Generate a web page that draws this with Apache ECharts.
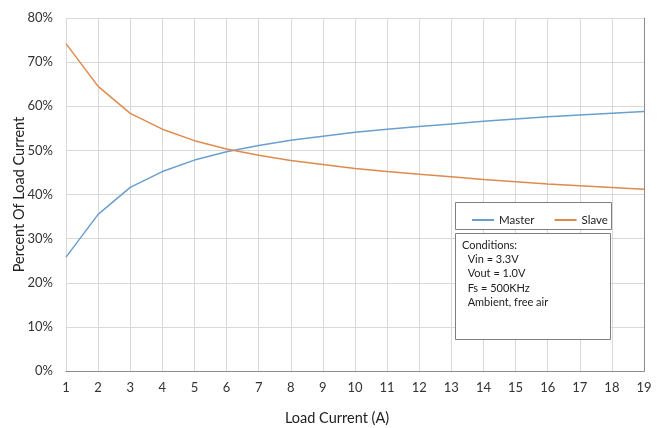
<!DOCTYPE html>
<html><head><meta charset="utf-8">
<script src="https://cdn.jsdelivr.net/npm/echarts@6/dist/echarts.min.js"></script>
<style>html,body{margin:0;padding:0;background:#fff}#c{width:660px;height:428px}</style>
</head><body><div id="c"></div>
<script>
var loadCurrent = [1,2,3,4,5,6,7,8,9,10,11,12,13,14,15,16,17,18,19];
var master = [25.8,35.5,41.6,45.2,47.8,49.7,51.1,52.3,53.2,54.1,54.8,55.4,56.0,56.6,57.1,57.6,58.0,58.4,58.8];
var slave  = [74.2,64.5,58.4,54.8,52.2,50.3,48.9,47.7,46.8,45.9,45.2,44.6,44.0,43.4,42.9,42.4,42.0,41.6,41.2];
var seriesNames = ['Master','Slave'];
var conditions = ['Conditions:','  Vin = 3.3V','  Vout = 1.0V','  Fs = 500KHz','  Ambient, free air'];

var FONT = 'Lato';
var chart = echarts.init(document.getElementById('c'), null, {renderer:'canvas'});
function pairs(xs, ys){ return xs.map(function(x,i){return [x, ys[i]];}); }
chart.setOption({
  animation:false,
  textStyle:{fontFamily:FONT},
  grid:{left:66,right:16,top:18,bottom:57,containLabel:false,outerBoundsMode:'none'},
  xAxis:[{
    type:'value', min:1, max:19, interval:1,
    name:'Load Current (A)', nameLocation:'middle', nameGap:40, nameMoveOverlap:false,
    nameTextStyle:{fontFamily:FONT,fontSize:14.5,color:'#222',padding:[0,36,0,0]},
    axisLine:{show:true,lineStyle:{color:'#8c8c8c',width:1}},
    axisTick:{show:false},
    axisLabel:{fontFamily:FONT,fontSize:13,color:'#333',margin:10},
    splitLine:{show:true,lineStyle:{color:'#d9d9d9',width:1}}
  },{
    type:'value', min:1, max:19, interval:1, position:'top',
    axisLine:{show:true,lineStyle:{color:'#8c8c8c',width:1}},
    axisTick:{show:false}, axisLabel:{show:false}, splitLine:{show:false}
  }],
  yAxis:[{
    type:'value', min:0, max:80, interval:10,
    name:'Percent Of Load Current', nameLocation:'middle', nameGap:39, nameMoveOverlap:false,
    nameTextStyle:{fontFamily:FONT,fontSize:14.5,color:'#222'},
    axisLine:{show:false}, axisTick:{show:false},
    axisLabel:{fontFamily:FONT,fontSize:13,color:'#333',margin:13,formatter:'{value}%'},
    splitLine:{show:true,lineStyle:{color:'#d9d9d9',width:1}}
  },{
    type:'value', min:0, max:80, interval:10, position:'right',
    axisLine:{show:true,lineStyle:{color:'#8c8c8c',width:1}},
    axisTick:{show:false}, axisLabel:{show:false}, splitLine:{show:false}
  }],
  legend:{
    data:seriesNames, left:467, top:209, itemWidth:22, itemHeight:2, icon:'rect',
    itemGap:20, z:10, textStyle:{fontFamily:FONT,fontSize:11.5,color:'#222'}
  },
  graphic:[
    {type:'rect', shape:{x:455.5,y:202.5,width:156,height:27}, style:{fill:'#fff',stroke:'#7f7f7f',lineWidth:1}, z:5},
    {type:'rect', shape:{x:455.5,y:233.5,width:155,height:106}, style:{fill:'#fff',stroke:'#7f7f7f',lineWidth:1}, z:100},
    {type:'text', left:462, top:238, z:101, style:{text:conditions.join('\n'), font:'11px '+FONT, fill:'#222', lineHeight:14.3}}
  ],
  series:[
    {name:seriesNames[0], type:'line', data:pairs(loadCurrent, master), showSymbol:false, smooth:false,
     lineStyle:{color:'#6a9fcf',width:1.5}, itemStyle:{color:'#6a9fcf'}},
    {name:seriesNames[1], type:'line', data:pairs(loadCurrent, slave), showSymbol:false, smooth:false,
     lineStyle:{color:'#e08a4e',width:1.5}, itemStyle:{color:'#e08a4e'}}
  ]
});
</script></body></html>
